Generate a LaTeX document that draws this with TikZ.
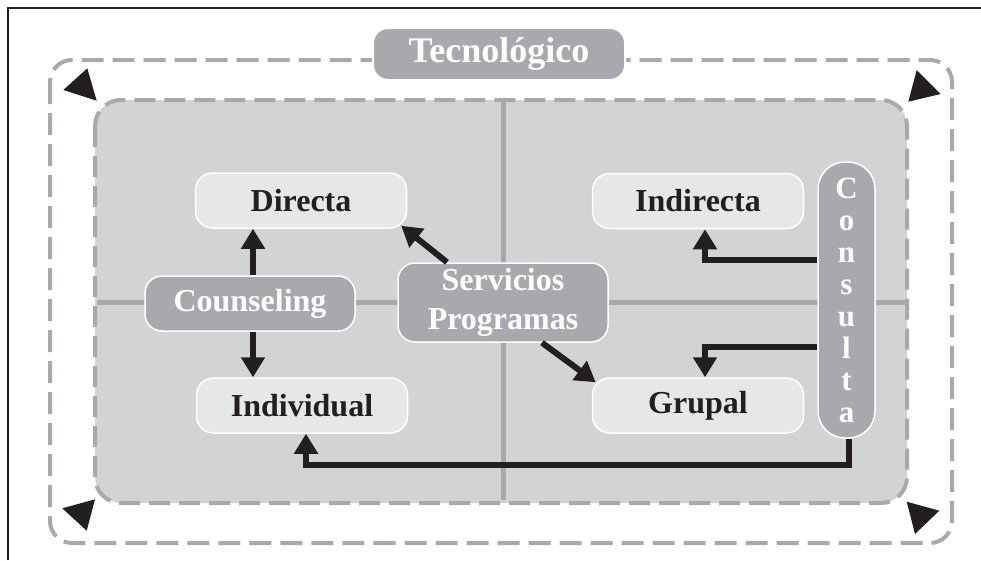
\documentclass[tikz,border=0pt]{standalone}
\usepackage{fontspec}
\setmainfont{Liberation Serif}
\usetikzlibrary{arrows.meta}
\definecolor{panel}{HTML}{D1D3D4}
\definecolor{darkbox}{HTML}{A7A9AC}
\definecolor{lightbox}{HTML}{E6E7E8}
\definecolor{ink}{HTML}{231F20}
\begin{document}
\begin{tikzpicture}[x=1pt,y=-1pt,
  lightnode/.style={draw=white,line width=1.5pt,fill=lightbox,rounded corners=17pt,
    minimum width=211pt,minimum height=55pt,inner sep=0pt,text=ink,
    font=\fontsize{32}{38}\selectfont\bfseries},
  darknode/.style={draw=white,line width=1.5pt,fill=darkbox,rounded corners=17pt,
    minimum width=210pt,minimum height=55pt,inner sep=0pt,text=white,align=center,
    font=\fontsize{32}{39}\selectfont\bfseries},
  arr/.style={draw=ink,line width=6pt,-{Triangle[length=20pt,width=23pt]}},
  corner/.style={fill=ink},
  cross/.style={draw=darkbox,line width=5pt}]
\useasboundingbox (0,0) rectangle (981,560);
% frame
\draw[line width=1.2pt,ink] (8,560) -- (8,8) -- (981,8);
% outer dashed frame
\draw[darkbox,line width=4pt,dash pattern=on 22pt off 9pt,rounded corners=22pt]
  (50,60) rectangle (952,543);
% inner panel
\draw[darkbox,fill=panel,line width=4pt,dash pattern=on 21pt off 9pt,rounded corners=26pt]
  (95,100) rectangle (907,503);
% quadrant lines
\draw[cross] (503,102) -- (503,500);
\draw[cross] (97,302) -- (905,302);
% corner arrowheads
\fill[corner] (63.3,90) -- (87.3,68.3) -- (96.7,100.7) -- cycle;
\fill[corner] (916.7,70) -- (940.7,94) -- (908.3,101.7) -- cycle;
\fill[corner] (906.7,501.7) -- (939.3,510.7) -- (915,534) -- cycle;
\fill[corner] (95,499.3) -- (86.7,530.7) -- (62.3,508.3) -- cycle;
% title
\node[draw=white,line width=2pt,fill=darkbox,rounded corners=15pt,minimum width=252pt,
  minimum height=52pt,inner sep=0pt,text=white,font=\fontsize{36}{40}\selectfont\bfseries]
  (tec) at (499,54) {Tecnológico};
% boxes
\node[lightnode] (dir) at (301,200.5) {Directa};
\node[lightnode] (ivd) at (302,405.5) {Individual};
\node[lightnode] (ind) at (698,201) {Indirecta};
\node[lightnode] (grp) at (698,405.5) {Grupal};
\node[darknode] (cou) at (250,303.5) {Counseling};
\node[darknode,minimum height=79pt] (srv) at (503,302.5) {Servicios\\Programas};
\node[darknode,minimum width=57pt,minimum height=276pt,rounded corners=27pt,
  font=\fontsize{31}{32}\selectfont\bfseries] (con) at (846.5,300)
  {C\\o\\n\\s\\u\\l\\t\\a};
% connectors
\draw[arr] ([xshift=3pt]cou.north) -- ([xshift=3pt]cou.north |- dir.south);
\draw[arr] ([xshift=3pt]cou.south) -- ([xshift=3pt]cou.south |- ivd.north);
\draw[arr] ([xshift=-56pt]srv.north) -- ([xshift=-6pt,yshift=3pt]dir.south east);
\draw[arr] ([xshift=39pt]srv.south) -- ([xshift=4pt,yshift=-5pt]grp.north west);
\draw[arr] (con.west |- 0,260) -| ([xshift=7pt]ind.south);
\draw[arr] (con.west |- 0,347) -| ([xshift=7pt]grp.north);
\draw[arr] ([xshift=2pt]con.south) -- ++(0,26) -| ([xshift=4pt]ivd.south);
\end{tikzpicture}
\end{document}
